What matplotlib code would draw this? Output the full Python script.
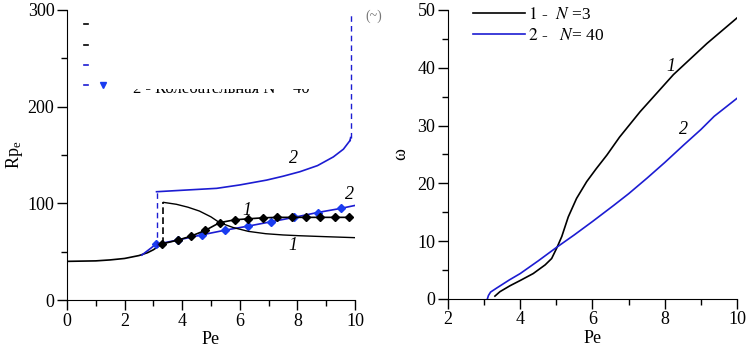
import matplotlib
matplotlib.use("Agg")
import matplotlib.pyplot as plt
from matplotlib.transforms import Bbox, TransformedBbox

plt.rcParams["font.family"] = ["Liberation Serif", "DejaVu Serif"]
plt.rcParams["mathtext.fontset"] = "stix"

BLUE = "#1c1cd2"
MBLUE = "#1a3cf0"

# left panel: Rp_e vs Pe
base_pe = [0, 1, 1.5, 2, 2.5, 2.8, 3.0, 3.2, 3.3]
base_rp = [40, 40.5, 41.5, 43, 46, 49, 52, 56, 58]

black_pts_pe = [3.3, 3.85, 4.3, 4.8, 5.3, 5.83, 6.3, 6.8, 7.3, 7.8, 8.3, 8.8, 9.3, 9.8]
black_pts_rp = [58, 62, 66, 72, 80, 83, 84, 85, 85.5, 85.5, 85.5, 85.5, 85.5, 85.5]

black_top_pe = [3.35, 3.8, 4.2, 4.6, 5.0, 5.3, 5.77, 6.3, 6.9, 7.5, 8.07, 9.0, 10.0]
black_top_rp = [101, 99, 96, 92, 86, 80, 75, 71, 68.6, 67.3, 66.5, 65.5, 64.5]

blue_pts_pe = [2.6, 3.08, 3.84, 4.7, 5.5, 6.3, 7.1, 7.87, 8.7, 9.5, 10.0]
blue_pts_rp = [46.5, 57.5, 62, 67.5, 72.3, 76.5, 81, 85.4, 90.5, 94.7, 97.8]

blue_top_pe = [3.11, 4.0, 5.2, 6.0, 6.93, 7.5, 8.09, 8.7, 9.25, 9.6, 9.83]
blue_top_rp = [112, 113.5, 115.5, 119, 124, 128, 132.7, 139, 148, 156, 165]
blue_jump_pe = 9.85
blue_jump_rp = [168, 295]

# right panel: omega vs Pe
w1_pe = [3.30, 3.44, 3.72, 4.0, 4.36, 4.69, 4.87, 5.01, 5.15, 5.33, 5.56, 5.84,
         6.1, 6.40, 6.75, 7.32, 8.24, 9.17, 10.0]
w1_om = [0.5, 1.27, 2.3, 3.2, 4.4, 5.9, 7.0, 8.8, 10.8, 14.2, 17.4, 20.3,
         22.5, 24.9, 28.0, 32.4, 38.8, 44.2, 48.6]
w2_pe = [3.09, 3.12, 3.18, 3.35, 3.7, 4.0, 4.5, 5.0, 5.5, 6.0, 6.59, 7.0, 7.51,
         8.0, 8.52, 9.0, 9.37, 10.0]
w2_om = [0.0, 0.6, 1.2, 1.9, 3.3, 4.4, 6.6, 8.9, 11.1, 13.4, 16.2, 18.2, 20.9,
         23.6, 26.6, 29.3, 31.6, 34.7]

fig = plt.figure(figsize=(7.46, 3.53), dpi=100)
ax1 = fig.add_axes([0.0898, 0.150, 0.386, 0.822])
ax2 = fig.add_axes([0.6005, 0.153, 0.3874, 0.819])

for ax in (ax1, ax2):
    ax.spines["top"].set_visible(False)
    ax.spines["right"].set_visible(False)
    ax.tick_params(direction="out", labelsize=13, length=7, width=1, pad=2)
    ax.tick_params(which="minor", direction="out", length=4, width=1)
    ax.minorticks_on()

# ---- left
ax1.plot(base_pe, base_rp, color="black", lw=1.2)
ax1.plot(blue_pts_pe, blue_pts_rp, color=BLUE, lw=1.2)
ax1.plot(blue_pts_pe[1:-1], blue_pts_rp[1:-1], "D", color=MBLUE, ms=4, ls="none")
ax1.plot(black_pts_pe, black_pts_rp, color="black", lw=1.2, marker="D", ms=4)
ax1.plot(black_top_pe, black_top_rp, color="black", lw=1.0)
ax1.plot(blue_top_pe, blue_top_rp, color=BLUE, lw=1.2)
ax1.plot([blue_top_pe[-1], blue_jump_pe], [blue_top_rp[-1], blue_jump_rp[0]], color=BLUE, lw=1.2)
ax1.plot([blue_jump_pe, blue_jump_pe], blue_jump_rp, color=BLUE, lw=1.0, ls=(0, (4, 3)))
ax1.plot([3.11, 3.11], [55, 112], color=BLUE, lw=1.0, ls=(0, (4, 3)))
ax1.plot([3.33, 3.33], [58, 101], color="black", lw=1.2, ls=(0, (4, 2)))

ax1.text(6.1, 88, "1", fontsize=13, style="italic")
ax1.text(7.7, 52, "1", fontsize=13, style="italic")
ax1.text(9.65, 104, "2", fontsize=13, style="italic")
ax1.text(7.7, 142, "2", fontsize=13, style="italic")

# broken legend remnant (only the lower half of the text survives)
leg_y = [0.95, 0.88, 0.81, 0.74]
leg_c = ["black", "black", BLUE, BLUE]
for yy, cc in zip(leg_y, leg_c):
    ax1.plot([0.058, 0.072], [yy, yy], color=cc, lw=1.2, transform=ax1.transAxes)
ax1.plot([0.125], [0.74], marker="v", color=MBLUE, ms=4, transform=ax1.transAxes)
t = ax1.text(0.23, 0.712, "2 - Колебательная N = 40", fontsize=12,
             transform=ax1.transAxes)
t.set_clip_box(TransformedBbox(Bbox([[0.0, 0.0], [1.0, 0.726]]), ax1.transAxes))
t.set_clip_on(True)
ax1.text(1.035, 0.965, "(~)", fontsize=10, color="#777777", transform=ax1.transAxes)

ax1.set_xlim(0, 10)
ax1.set_ylim(0, 300)
ax1.set_xticks([0, 2, 4, 6, 8, 10])
ax1.set_yticks([0, 100, 200, 300])
ax1.set_xticks([1, 3, 5, 7, 9], minor=True)
ax1.set_yticks([50, 150, 250], minor=True)
ax1.set_xlabel("Pe", fontsize=13, labelpad=1)
ax1.set_ylabel("Rp$_{\\mathregular{e}}$", fontsize=13, labelpad=2)

# ---- right
ax2.plot(w1_pe, w1_om, color="black", lw=1.2, label="$\\it{1}$ -  $\\it{N}$ =3")
ax2.plot(w2_pe, w2_om, color=BLUE, lw=1.2, label="$\\it{2}$ -   $\\it{N}$= 40")
ax2.text(8.05, 39.5, "1", fontsize=13, style="italic")
ax2.text(8.4, 28.5, "2", fontsize=13, style="italic")
ax2.legend(loc="upper left", frameon=False, fontsize=12.5, handlelength=3.0,
           handletextpad=0.15, borderaxespad=0.2, labelspacing=0.25,
           bbox_to_anchor=(0.05, 1.045))

ax2.set_xlim(2, 10)
ax2.set_ylim(0, 50)
ax2.set_xticks([2, 4, 6, 8, 10])
ax2.set_yticks([0, 10, 20, 30, 40, 50])
ax2.set_xticks([3, 5, 7, 9], minor=True)
ax2.set_yticks([5, 15, 25, 35, 45], minor=True)
ax2.set_xlabel("Pe", fontsize=13, labelpad=1)
ax2.set_ylabel("ω", fontsize=13, labelpad=6)

fig.savefig("out.png", dpi=100)
